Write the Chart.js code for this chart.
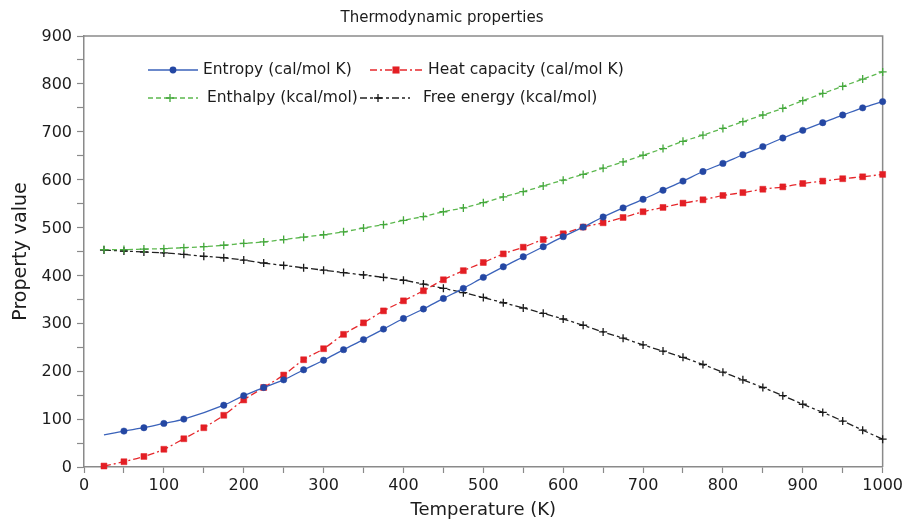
<!DOCTYPE html>
<html>
<head>
<meta charset="utf-8">
<title>Thermodynamic properties</title>
<script src="https://cdn.jsdelivr.net/npm/chart.js@4.4.1/dist/chart.umd.min.js"></script>
<style>
  html, body { margin: 0; padding: 0; background: #ffffff; }
  #wrap { width: 906px; height: 523px; }
  canvas { display: block; }
</style>
</head>
<body>
<div id="wrap"><canvas id="chart" width="906" height="523"></canvas></div>
<script>
// Temperature grid (K)
const temperatures = [25, 50, 75, 100, 125, 150, 175, 200, 225, 250, 275, 300, 325, 350, 375, 400, 425, 450, 475, 500,
                      525, 550, 575, 600, 625, 650, 675, 700, 725, 750, 775, 800, 825, 850, 875, 900, 925, 950, 975, 1000];

// Property values at each temperature
const entropy      = [67, 75, 82, 91, 100, null, 129, 149, 166, 182, 203, 223, 245, 266, 288, 310, 330, 352, 373, 396,
                      418, 439, 460, 481, 501, 522, 541, 559, 578, 597, 617, 634, 652, 669, 687, 703, 719, 735, 750, 763];
const heatCapacity = [2, 11, 22, 37, 59, 82, 108, 140, 166, 192, 224, 247, 277, 301, 326, 347, 368, 391, 410, 427,
                      445, 459, 475, 487, 501, 510, 521, 533, 542, 551, 558, 567, 573, 580, 585, 592, 597, 602, 606, 611];
const enthalpy     = [454, 454, 455, 456, 458, 460, 463, 467, 470, 475, 480, 485, 491, 499, 506, 515, 523, 533, 541, 552,
                      564, 575, 587, 599, 611, 624, 637, 651, 665, 680, 693, 707, 721, 735, 749, 765, 780, 795, 810, 825];
const freeEnergy   = [453, 451, 449, 447, 444, 440, 437, 432, 426, 421, 416, 411, 406, 401, 396, 390, 382, 373, 364, 354,
                      343, 332, 321, 309, 296, 282, 269, 255, 242, 229, 214, 198, 182, 166, 149, 131, 114, 96, 77, 58];

const seriesNames = ['Entropy (cal/mol K)', 'Heat capacity (cal/mol K)', 'Enthalpy (kcal/mol)', 'Free energy (kcal/mol)'];
const xTickLabels = ['0', '100', '200', '300', '400', '500', '600', '700', '800', '900', '1000'];
const yTickLabels = ['0', '100', '200', '300', '400', '500', '600', '700', '800', '900'];

const FONT = '"DejaVu Sans", "Liberation Sans", sans-serif';
const AXIS_GREY = '#8a8a8a';
const TEXT = '#1c1c1c';

Chart.defaults.font.family = FONT;
Chart.defaults.color = TEXT;

function toPoints(values) {
  return temperatures.map((t, i) => ({ x: t, y: values[i] }));
}

// Marker drawing shared by the legend
function drawMarker(ctx, style, x, y, r, fill, stroke, lw) {
  ctx.save();
  ctx.setLineDash([]);
  ctx.fillStyle = fill;
  ctx.strokeStyle = stroke;
  ctx.lineWidth = lw;
  if (style === 'circle') {
    ctx.beginPath();
    ctx.arc(x, y, r, 0, Math.PI * 2);
    ctx.fill();
  } else if (style === 'rect') {
    const s = r * Math.SQRT1_2;
    ctx.fillRect(x - s, y - s, 2 * s, 2 * s);
  } else if (style === 'cross') {
    ctx.beginPath();
    ctx.moveTo(x - r, y); ctx.lineTo(x + r, y);
    ctx.moveTo(x, y - r); ctx.lineTo(x, y + r);
    ctx.stroke();
  }
  ctx.restore();
}

// Legend boxes placed inside the plotting area
const legendSlots = [
  { x0: 148, x1: 198, mx: 173, tx: 203, y: 70 },
  { x0: 370, x1: 422, mx: 396, tx: 428, y: 70 },
  { x0: 148, x1: 198, mx: 170, tx: 207, y: 98 },
  { x0: 360, x1: 410, mx: 378, tx: 423, y: 98 }
];

const insideLegend = {
  id: 'insideLegend',
  afterDraw(chart) {
    const ctx = chart.ctx;
    chart.data.datasets.forEach((ds, i) => {
      const s = legendSlots[i];
      ctx.save();
      ctx.strokeStyle = ds.borderColor;
      ctx.lineWidth = ds.borderWidth;
      ctx.setLineDash(ds.borderDash || []);
      ctx.beginPath();
      ctx.moveTo(s.x0, s.y);
      ctx.lineTo(s.x1, s.y);
      ctx.stroke();
      ctx.restore();
      drawMarker(ctx, ds.pointStyle, s.mx, s.y, ds.legendRadius, ds.pointBackgroundColor, ds.pointBorderColor, ds.pointBorderWidth);
      ctx.save();
      ctx.fillStyle = TEXT;
      ctx.font = '15.5px ' + FONT;
      ctx.textBaseline = 'middle';
      ctx.textAlign = 'left';
      ctx.fillText(ds.label, s.tx, s.y);
      ctx.restore();
    });
  }
};

// Closes the plot box on the top and right sides
const plotFrame = {
  id: 'plotFrame',
  beforeDatasetsDraw(chart) {
    const { ctx, chartArea: a } = chart;
    ctx.save();
    ctx.strokeStyle = AXIS_GREY;
    ctx.lineWidth = 1.5;
    ctx.beginPath();
    ctx.moveTo(a.left, a.top);
    ctx.lineTo(a.right, a.top);
    ctx.lineTo(a.right, a.bottom);
    ctx.stroke();
    ctx.restore();
  }
};

const common = {
  parsing: true,
  clip: false,
  borderWidth: 1.3,
  cubicInterpolationMode: 'monotone',
  pointHoverRadius: 0
};

new Chart(document.getElementById('chart'), {
  type: 'line',
  data: {
    datasets: [
      Object.assign({}, common, {
        label: seriesNames[0],
        data: toPoints(entropy),
        spanGaps: true,
        borderColor: '#3a62ba',
        pointStyle: 'circle',
        pointBackgroundColor: '#2447a3',
        pointBorderColor: '#2447a3',
        pointBorderWidth: 0.5,
        pointRadius: (c) => (c.dataIndex === 0 ? 0 : 3.2),
        legendRadius: 3.4
      }),
      Object.assign({}, common, {
        label: seriesNames[1],
        data: toPoints(heatCapacity),
        borderColor: '#e6282c',
        borderDash: [7, 3, 2, 3],
        pointStyle: 'rect',
        pointBackgroundColor: '#e31e24',
        pointBorderColor: '#e31e24',
        pointBorderWidth: 0.5,
        pointRadius: 4.2,
        legendRadius: 5
      }),
      Object.assign({}, common, {
        label: seriesNames[2],
        data: toPoints(enthalpy),
        borderColor: '#5cb84e',
        borderDash: [5, 3],
        pointStyle: 'cross',
        pointBackgroundColor: '#44a83c',
        pointBorderColor: '#44a83c',
        pointBorderWidth: 1.3,
        pointRadius: 4,
        legendRadius: 4
      }),
      Object.assign({}, common, {
        label: seriesNames[3],
        data: toPoints(freeEnergy),
        borderColor: '#222222',
        borderDash: [7, 3, 3, 3],
        pointStyle: 'cross',
        pointBackgroundColor: '#1a1a1a',
        pointBorderColor: '#1a1a1a',
        pointBorderWidth: 1.3,
        pointRadius: 4,
        legendRadius: 4
      })
    ]
  },
  options: {
    responsive: false,
    animation: false,
    devicePixelRatio: 1,
    events: [],
    layout: { padding: { left: 0, right: 22, top: 0, bottom: 0 } },
    plugins: {
      legend: { display: false },
      tooltip: { enabled: false },
      title: {
        display: true,
        text: 'Thermodynamic properties',
        color: TEXT,
        font: { size: 15, weight: 'normal' },
        padding: { top: 9, bottom: 9 }
      }
    },
    scales: {
      x: {
        type: 'linear',
        min: 0,
        max: 1000,
        afterFit(scale) { scale.height = 56; },
        border: { color: AXIS_GREY, width: 1.5 },
        grid: { drawOnChartArea: false, drawTicks: true, tickLength: 6, tickColor: AXIS_GREY, tickWidth: 1.2 },
        ticks: {
          stepSize: 50,
          autoSkip: false,
          maxRotation: 0,
          padding: 3,
          color: TEXT,
          font: { size: 16 },
          callback: (v) => (v % 100 === 0 ? xTickLabels[v / 100] : '')
        },
        title: {
          display: true,
          text: 'Temperature (K)',
          color: TEXT,
          font: { size: 18 },
          padding: { top: 0, bottom: 2 }
        }
      },
      y: {
        type: 'linear',
        min: 0,
        max: 900,
        afterFit(scale) { scale.width = 84; },
        border: { color: AXIS_GREY, width: 1.5 },
        grid: { drawOnChartArea: false, drawTicks: true, tickLength: 7, tickColor: AXIS_GREY, tickWidth: 1.2 },
        ticks: {
          stepSize: 50,
          autoSkip: false,
          padding: 5,
          labelOffset: 1,
          color: TEXT,
          font: { size: 16 },
          callback: (v) => (v % 100 === 0 ? yTickLabels[v / 100] : '')
        },
        title: {
          display: true,
          text: 'Property value',
          color: TEXT,
          font: { size: 19 },
          padding: { top: 10, bottom: 0 }
        }
      }
    }
  },
  plugins: [plotFrame, insideLegend]
});
</script>
</body>
</html>
